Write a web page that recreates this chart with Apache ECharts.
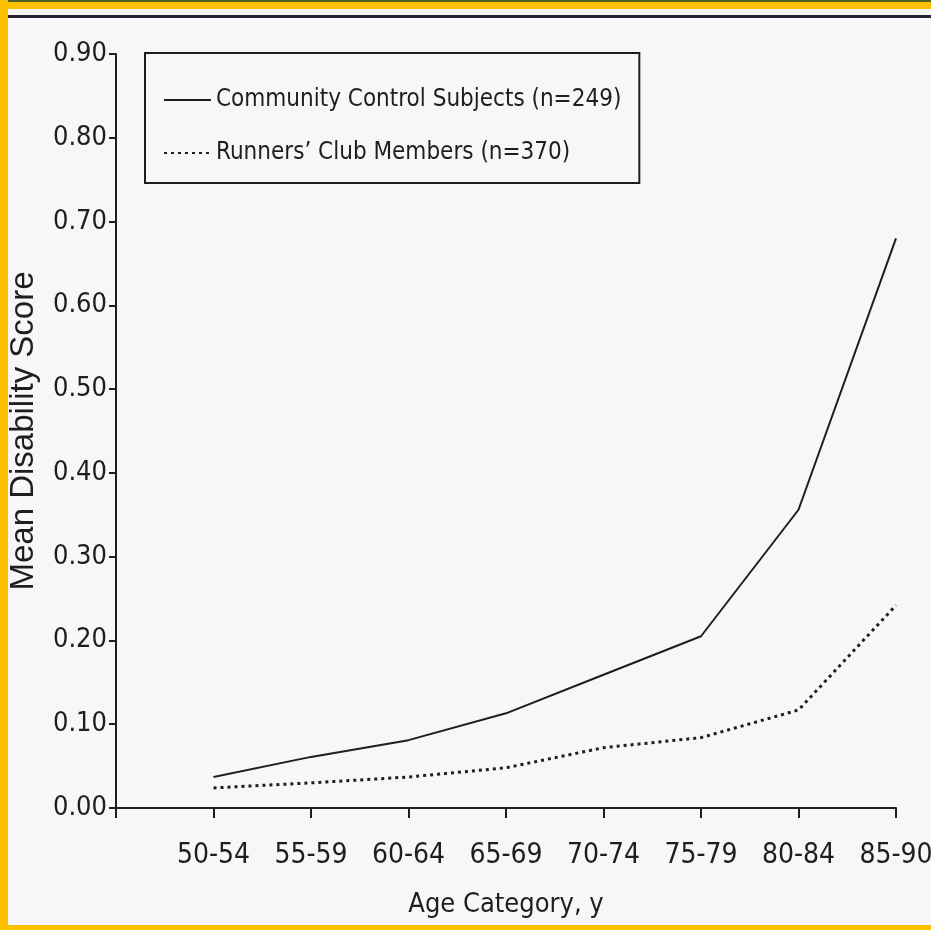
<!DOCTYPE html>
<html>
<head>
<meta charset="utf-8">
<script src="https://cdn.jsdelivr.net/npm/echarts@6/dist/echarts.min.js"></script>
<style>
  html, body { margin: 0; padding: 0; background: #f7f7f7; }
  #wrap { position: relative; width: 931px; height: 930px; overflow: hidden; }
  #chart { position: absolute; left: 0; top: 0; width: 931px; height: 930px; }
  .deco { position: absolute; pointer-events: none; }
</style>
</head>
<body>
<div id="wrap">
  <div id="chart"></div>
  <!-- scan frame -->
  <div class="deco" style="left:0;top:0;width:931px;height:9px;background:#ffc000;border-top:2px solid #4f6228;box-sizing:border-box;"></div>
  <div class="deco" style="left:0;top:0;width:8px;height:930px;background:#ffc000;"></div>
  <div class="deco" style="left:0;top:925px;width:931px;height:5px;background:#ffc000;"></div>
  <div class="deco" style="left:8px;top:15px;width:923px;height:3px;background:#262233;"></div>
</div>
<script type="text/javascript">
// 数据
var ageGroups = ['50-54', '55-59', '60-64', '65-69', '70-74', '75-79', '80-84', '85-90'];
var controlScores = [0.037, 0.061, 0.081, 0.113, 0.159, 0.205, 0.356, 0.680];
var runnerScores = [0.024, 0.030, 0.037, 0.048, 0.072, 0.084, 0.117, 0.242];
var seriesNames = ['Community Control Subjects (n=249)', 'Runners\u2019 Club Members (n=370)'];

var narrow = "'Liberation Sans Narrow', 'DejaVu Sans Condensed', sans-serif";
var ink = '#1e1e1e';

function toPoints(values) {
	return values.map(function (v, i) { return [i + 1, v]; });
}

var myChart = echarts.init(document.getElementById('chart'));
var option = {
	backgroundColor: 'transparent',
	animation: false,
	grid: { left: 116, right: 35, top: 54, bottom: 122, outerBoundsMode: 'none' },
	legend: {
		orient: 'vertical',
		left: 145,
		top: 53,
		padding: [35, 18, 18, 18],
		itemWidth: 47,
		itemHeight: 26,
		itemGap: 29,
		borderColor: ink,
		borderWidth: 2,
		borderRadius: 0,
		itemStyle: { color: 'rgba(0,0,0,0)', borderWidth: 0, opacity: 0 },
		textStyle: { fontFamily: narrow, fontSize: 24, color: ink },
		data: seriesNames
	},
	xAxis: {
		type: 'value',
		min: 0,
		max: 8,
		interval: 1,
		name: 'Age Category, y',
		nameLocation: 'middle',
		nameGap: 83,
		nameTextStyle: { fontFamily: narrow, fontSize: 27, color: ink },
		splitLine: { show: false },
		axisLine: { lineStyle: { color: ink, width: 2 } },
		axisTick: { length: 10, lineStyle: { color: ink, width: 2 } },
		axisLabel: {
			margin: 34,
			fontFamily: narrow,
			fontSize: 28,
			color: ink,
			formatter: function (v) { return ageGroups[v - 1] || ''; }
		}
	},
	yAxis: {
		type: 'value',
		min: 0,
		max: 0.9,
		interval: 0.1,
		name: 'Mean Disability Score',
		nameLocation: 'middle',
		nameGap: 76,
		nameTextStyle: { fontFamily: "'Liberation Sans', Arial, sans-serif", fontSize: 33, color: ink },
		splitLine: { show: false },
		axisLine: { show: true, lineStyle: { color: ink, width: 2 } },
		axisTick: { show: true, length: 7, lineStyle: { color: ink, width: 2 } },
		axisLabel: {
			margin: 9,
			fontFamily: narrow,
			fontSize: 27,
			color: ink,
			formatter: function (v) { return v.toFixed(2); }
		}
	},
	series: [{
		name: seriesNames[0],
		type: 'line',
		symbol: 'none',
		lineStyle: { color: ink, width: 2, type: 'solid' },
		itemStyle: { color: ink },
		data: toPoints(controlScores)
	}, {
		name: seriesNames[1],
		type: 'line',
		symbol: 'none',
		lineStyle: { color: ink, width: 3, type: [3, 4] },
		itemStyle: { color: ink },
		data: toPoints(runnerScores)
	}]
};
myChart.setOption(option);
</script>
</body>
</html>
